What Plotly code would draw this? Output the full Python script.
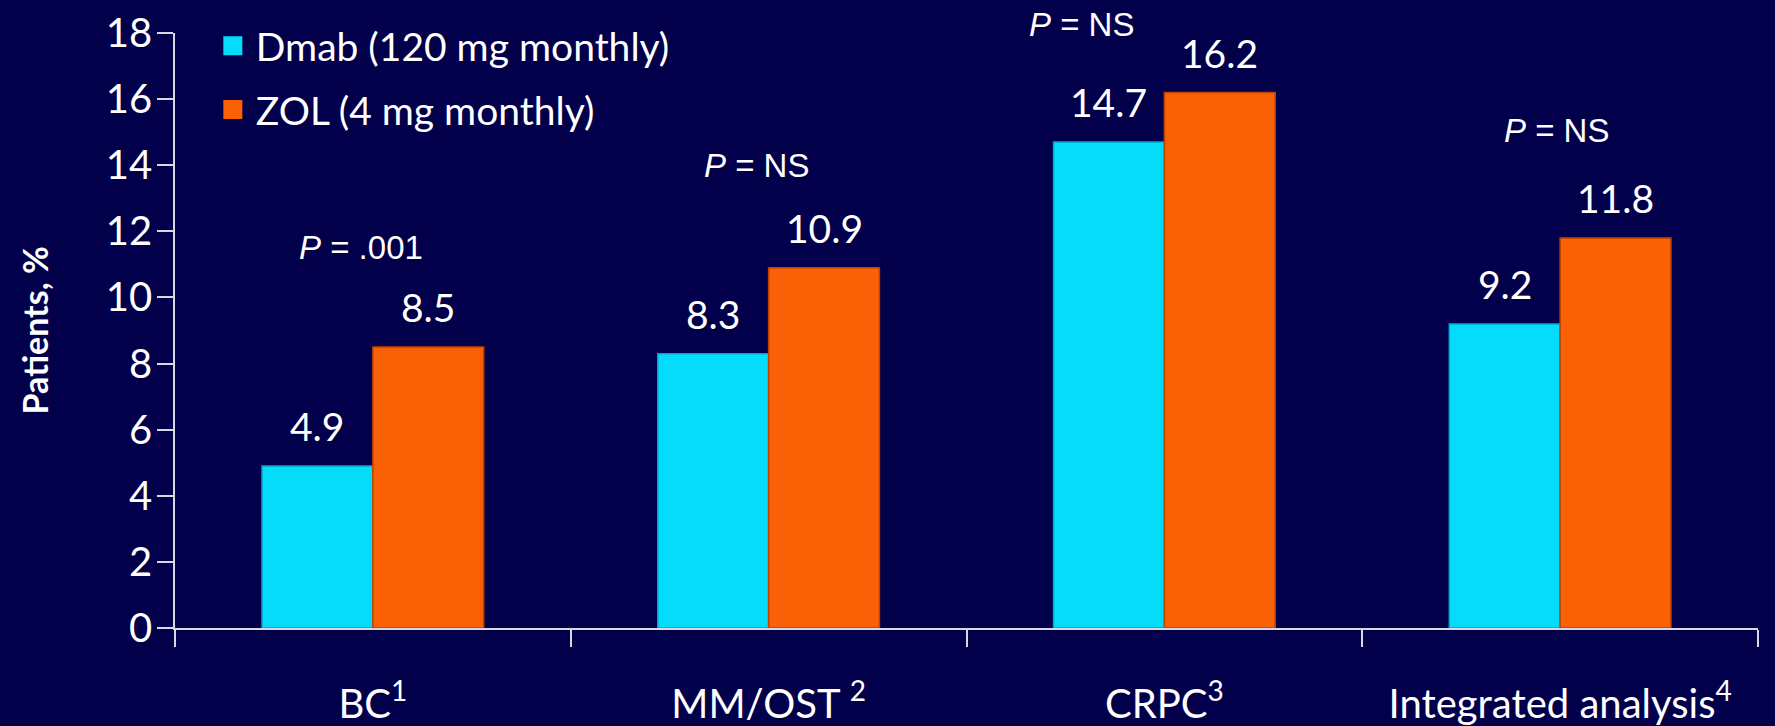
import plotly.graph_objects as go

# Skeletal-related event incidence by study
categories = ["BC<sup>1</sup>", "MM/OST <sup>2</sup>", "CRPC<sup>3</sup>", "Integrated analysis<sup>4</sup>"]
dmab = [4.9, 8.3, 14.7, 9.2]
zol = [8.5, 10.9, 16.2, 11.8]
p_labels = ["<i>P</i> = .001", "<i>P</i> = NS", "<i>P</i> = NS", "<i>P</i> = NS"]
p_x = [-0.03, 0.97, 1.79, 2.99]
p_y = [11.5, 14.0, 18.25, 15.05]
y_ticks = [0, 2, 4, 6, 8, 10, 12, 14, 16, 18]
series_names = ["Dmab (120 mg monthly)", "ZOL (4 mg monthly)"]

BG = "#02004a"
AXIS = "#d8d8e0"
CYAN = "#04dcfa"
ORANGE = "#fa6006"
FONT = "Lato, 'Open Sans', sans-serif"
BARGAP = 0.44
Y_MAX = 18

fig = go.Figure()
for name, vals, col, edge in ((series_names[0], dmab, CYAN, "#00aacc"),
                              (series_names[1], zol, ORANGE, "#c04200")):
    fig.add_trace(go.Bar(
        x=categories, y=vals, name=name, showlegend=False,
        marker=dict(color=col, line=dict(color=edge, width=1.5)),
    ))

# legend entries with larger square swatches
for i, (name, col) in enumerate(zip(series_names, (CYAN, ORANGE))):
    fig.add_trace(go.Scatter(
        x=[None], y=[None], mode="markers", name=name,
        marker=dict(symbol="square", size=16, color=col, line=dict(color=col, width=3)),
        legendgroup=f"g{i}",
    ))

annotations = []
half = (1 - BARGAP) / 4
for i in range(len(categories)):
    for vals, off in ((dmab, -half), (zol, half)):
        annotations.append(dict(
            x=i + off, y=vals[i], xref="x", yref="y",
            text=f"{vals[i]:.1f}", showarrow=False,
            yanchor="middle", yshift=40,
            font=dict(family=FONT, size=39, color="white"),
        ))
    annotations.append(dict(
        x=p_x[i], y=p_y[i] / Y_MAX, xref="x", yref="paper",
        text=p_labels[i], showarrow=False, yanchor="middle",
        font=dict(family="Liberation Sans, Arial, sans-serif", size=33, color="white"),
    ))

annotations.append(dict(
    x=-0.0885, y=0.5, xref="paper", yref="paper", xanchor="center", yanchor="middle",
    text="<b>Patients, %</b>", textangle=-90, showarrow=False,
    font=dict(family=FONT, size=34, color="white"),
))

fig.update_layout(
    width=1775, height=726,
    paper_bgcolor=BG, plot_bgcolor=BG,
    margin=dict(l=175, r=17, t=33, b=98, autoexpand=False),
    bargap=BARGAP, bargroupgap=0,
    barmode="group",
    showlegend=True,
    legend=dict(
        x=0.022, y=1.032, xanchor="left", yanchor="top",
        bgcolor="rgba(0,0,0,0)",
        font=dict(family=FONT, size=39, color="white"),
        traceorder="grouped", tracegroupgap=10,
        itemwidth=36,
    ),
    annotations=annotations,
)
fig.update_xaxes(
    type="category", automargin=False,
    showline=True, linecolor=AXIS, linewidth=1.5,
    ticks="outside", tickson="boundaries", ticklen=17, tickcolor=AXIS, tickwidth=1.5,
    tickfont=dict(family=FONT, size=40, color="white"),
    ticklabelstandoff=40, tickangle=0,
    showgrid=False, zeroline=False,
)
fig.update_yaxes(
    range=[0, Y_MAX], tickvals=y_ticks, automargin=False,
    showline=True, linecolor=AXIS, linewidth=1.5,
    ticks="outside", ticklen=16, tickcolor=AXIS, tickwidth=1.5,
    tickfont=dict(family=FONT, size=40, color="white"),
    ticklabelstandoff=-3,
    showgrid=False, zeroline=False,
)

fig.write_html("out.html")
